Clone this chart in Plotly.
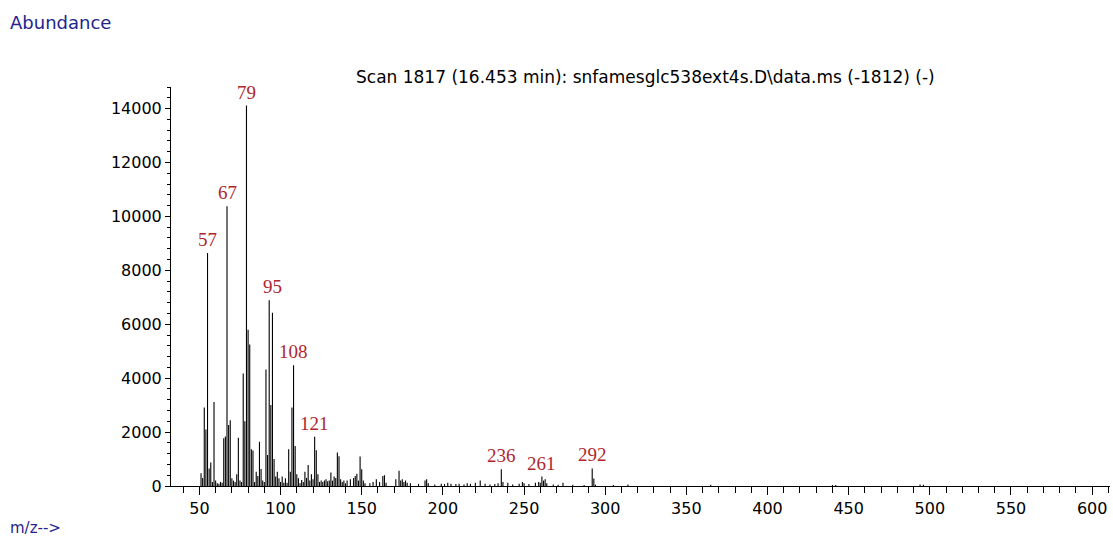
import plotly.graph_objects as go

# ---- data ----
mz = [51, 52, 53, 54, 55, 56, 57, 58, 59, 60, 61, 62, 63, 64, 65, 66, 67, 68, 69, 70,
      71, 72, 73, 74, 75, 76, 77, 78, 79, 80, 81, 82, 83, 84, 85, 86, 87, 88, 89, 90,
      91, 92, 93, 94, 95, 96, 97, 98, 99, 100, 101, 102, 103, 104, 105, 106, 107, 108, 109, 110,
      111, 112, 113, 114, 115, 116, 117, 118, 119, 120, 121, 122, 123, 124, 125, 126, 127, 128, 129, 130,
      131, 132, 133, 134, 135, 136, 137, 138, 139, 140, 141, 143, 145, 146, 147, 148, 149, 150, 151, 152,
      155, 157, 159, 161, 163, 164, 165, 171, 173, 174, 175, 176, 177, 178, 180, 185, 189, 190, 191, 195,
      199, 201, 203, 205, 208, 210, 213, 215, 217, 220, 223, 226, 229, 232, 234, 236, 237, 240, 243, 247,
      249, 250, 253, 257, 259, 260, 261, 262, 263, 264, 268, 271, 274, 280, 287, 292, 293, 294, 305, 314,
      365, 440, 442, 494, 496]
abundance = [470, 300, 2910, 2100, 8640, 650, 870, 150, 3120, 200, 100, 80, 150, 120, 1770, 1840, 10380, 2260, 2440, 290,
             200, 150, 440, 1790, 200, 150, 4170, 2400, 14110, 5800, 5250, 1360, 1320, 150, 530, 370, 1640, 630, 200, 150,
             4320, 1150, 6890, 3000, 6430, 1000, 350, 530, 290, 150, 350, 120, 290, 120, 1360, 530, 2910, 4480, 1480, 440,
             290, 100, 220, 150, 530, 300, 780, 200, 440, 250, 1830, 1330, 440, 150, 200, 150, 200, 250, 180, 200,
             500, 200, 350, 300, 1240, 1100, 250, 150, 200, 100, 200, 250, 300, 370, 450, 200, 1090, 620, 200, 100,
             100, 150, 250, 150, 370, 400, 120, 250, 570, 200, 250, 150, 200, 120, 100, 80, 200, 250, 100, 60,
             80, 70, 120, 80, 70, 80, 60, 100, 80, 120, 200, 80, 60, 70, 100, 620, 150, 120, 60, 80,
             150, 100, 70, 120, 150, 120, 350, 200, 250, 100, 60, 50, 120, 50, 40, 650, 280, 50, 40, 60,
             50, 40, 40, 60, 50]

label_at = [55, 67, 79, 95, 108, 121, 236, 261, 292]
label_text = ["57", "67", "79", "95", "108", "121", "236", "261", "292"]

x_ticks = [50, 100, 150, 200, 250, 300, 350, 400, 450, 500, 550, 600]
y_ticks = [0, 2000, 4000, 6000, 8000, 10000, 12000, 14000]

title_text = "Scan 1817 (16.453 min): snfamesglc538ext4s.D\\data.ms (-1812) (-)"

# ---- build stick spectrum ----
xs, ys = [], []
for m, a in zip(mz, abundance):
    xs += [m, m, None]
    ys += [0, a, None]

fig = go.Figure()
fig.add_trace(go.Scatter(x=xs, y=ys, mode="lines",
                         line=dict(color="black", width=1.1),
                         hoverinfo="skip", showlegend=False))

lookup = dict(zip(mz, abundance))
ann = []
for pos, txt in zip(label_at, label_text):
    top = max(lookup.get(k, 0) for k in range(pos - 2, pos + 3))
    ann.append(dict(x=pos, y=top, xref="x", yref="y", text=txt, showarrow=False,
                    yanchor="bottom", xanchor="center", yshift=1,
                    font=dict(family="Liberation Serif", size=19, color="#b0262d")))

ann.append(dict(x=(645 - 171) / 939, y=(486 - 77) / 399, xref="paper", yref="paper",
                text=title_text, showarrow=False, xanchor="center", yanchor="middle",
                font=dict(family="DejaVu Sans", size=17, color="black")))
ann.append(dict(x=(8 - 171) / 939, y=(486 - 22) / 399, xref="paper", yref="paper",
                text="Abundance", showarrow=False, xanchor="left", yanchor="middle",
                font=dict(family="DejaVu Sans", size=18, color="#24248c")))
ann.append(dict(x=(8 - 171) / 939, y=(486 - 528) / 399, xref="paper", yref="paper",
                text="m/z-->", showarrow=False, xanchor="left", yanchor="middle",
                font=dict(family="DejaVu Sans", size=15, color="#24248c")))

fig.update_layout(
    width=1113, height=539,
    margin=dict(l=171, r=3, t=87, b=53),
    plot_bgcolor="white", paper_bgcolor="white",
    showlegend=False,
    annotations=ann,
    xaxis=dict(range=[32.5, 611], tickvals=x_ticks, ticktext=[str(v) for v in x_ticks],
               ticks="outside", ticklen=8,
               tickcolor="black", tickwidth=1, showline=True, linecolor="black",
               linewidth=1, showgrid=False, zeroline=False,
               tickfont=dict(family="DejaVu Sans", size=16, color="black"),
               minor=dict(dtick=10, tick0=0, ticks="outside", ticklen=6,
                          tickcolor="black", showgrid=False)),
    yaxis=dict(range=[0, 14800], tickvals=y_ticks, ticktext=[str(v) for v in y_ticks],
               ticks="outside", ticklen=5,
               tickcolor="black", tickwidth=1, showline=True, linecolor="black",
               linewidth=1, showgrid=False, zeroline=False,
               tickfont=dict(family="DejaVu Sans", size=16, color="black"),
               minor=dict(dtick=400, tick0=0, ticks="outside", ticklen=3,
                          tickcolor="black", showgrid=False)),
)

fig.write_html("out.html")
